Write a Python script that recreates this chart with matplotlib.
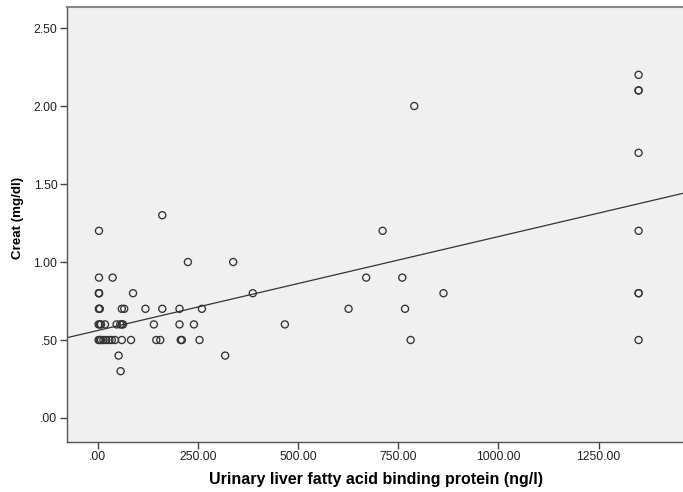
import matplotlib.pyplot as plt
import numpy as np

plt.rcParams['font.family'] = ['Liberation Sans', 'DejaVu Sans']

# urinary L-FABP (ng/l) and creatinine (mg/dl)
lfabp = [161,
         3, 711, 1350,
         1350, 1350, 1350, 790, 1350,
         225, 338,
         3, 37, 670, 760,
         3, 3, 3, 88, 387, 863, 1350, 1350,
         3, 3, 5, 60, 66, 119, 161, 204, 260, 626, 767,
         2, 5, 8, 18, 47, 56, 60, 63, 140, 204, 240, 467,
         2, 5, 8, 14, 21, 29, 35, 43, 60, 83, 146, 156, 207, 210, 254, 781, 1350,
         52, 318,
         57]
creat = [1.3,
         1.2, 1.2, 1.2,
         2.2, 2.1, 2.1, 2.0, 1.7,
         1.0, 1.0,
         0.9, 0.9, 0.9, 0.9,
         0.8, 0.8, 0.8, 0.8, 0.8, 0.8, 0.8, 0.8,
         0.7, 0.7, 0.7, 0.7, 0.7, 0.7, 0.7, 0.7, 0.7, 0.7, 0.7,
         0.6, 0.6, 0.6, 0.6, 0.6, 0.6, 0.6, 0.6, 0.6, 0.6, 0.6, 0.6,
         0.5, 0.5, 0.5, 0.5, 0.5, 0.5, 0.5, 0.5, 0.5, 0.5, 0.5, 0.5, 0.5, 0.5, 0.5, 0.5, 0.5,
         0.4, 0.4,
         0.3]

# fit line
intercept = 0.561
slope = 0.000602

xticks = [0, 250, 500, 750, 1000, 1250]
yticks = [0, 0.5, 1.0, 1.5, 2.0, 2.5]


def lab(v):
    s = f'{v:.2f}'
    return s[1:] if s.startswith('0') else s


fig = plt.figure(figsize=(6.83, 4.92), dpi=100)
ax = fig.add_axes([0.098, 0.1016, 0.905, 0.8842])
ax.set_facecolor('#f0f0f0')

ax.scatter(lfabp, creat, s=26, facecolors='none', edgecolors='#333333', linewidths=0.95, zorder=3)

xl = np.array([-77, 1466])
ax.plot(xl, intercept + slope * xl, color='#333333', lw=0.9, zorder=2)

ax.set_xlim(-77, 1466)
ax.set_ylim(-0.154, 2.635)
ax.set_xticks(xticks)
ax.set_xticklabels([lab(v) for v in xticks])
ax.set_yticks(yticks)
ax.set_yticklabels([lab(v) for v in yticks])
ax.tick_params(direction='out', length=5, width=1, colors='#444444', labelcolor='#222222', labelsize=8.8, pad=1.8)

for side in ['left', 'bottom']:
    ax.spines[side].set_color('#555555')
    ax.spines[side].set_linewidth(1)
ax.spines['top'].set_color('#888888')
ax.spines['top'].set_linewidth(1.5)
ax.spines['right'].set_visible(False)

ax.set_xlabel('Urinary liver fatty acid binding protein (ng/l)', fontsize=11.5, fontweight='bold', labelpad=6)
ax.set_ylabel('Creat (mg/dl)', fontsize=9.6, fontweight='bold')
ax.yaxis.set_label_coords(-0.07, 0.515)

fig.savefig('out.png', dpi=100)
